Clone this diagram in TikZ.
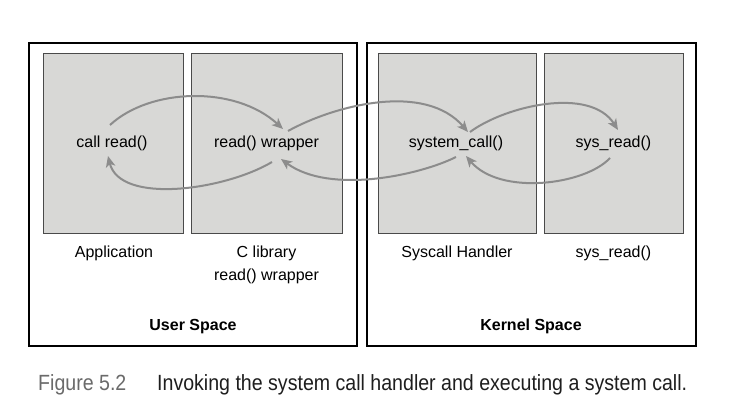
\documentclass[tikz,border=0pt]{standalone}
\usepackage{fontspec}
\setmainfont{Liberation Sans}
\newfontfamily\capfont[FakeStretch=0.89]{Liberation Sans}
\usetikzlibrary{arrows.meta}
\definecolor{boxfill}{HTML}{D8D8D6}
\definecolor{boxline}{HTML}{4A4A4A}
\definecolor{arrowgray}{HTML}{8C8C8C}
\definecolor{figgray}{HTML}{6A6A6A}
\definecolor{captext}{HTML}{1E1E1E}
\begin{document}
\begin{tikzpicture}[x=1pt,y=-1pt,
  outerbox/.style={draw=black,line width=1.6pt,anchor=north west,inner sep=0pt},
  innerbox/.style={draw=boxline,fill=boxfill,line width=0.9pt,anchor=north west,inner sep=0pt,minimum height=180pt},
  lbl/.style={font=\fontsize{16}{19}\selectfont,anchor=base,inner sep=0pt},
  boldlbl/.style={font=\fontsize{16}{19}\selectfont\bfseries,anchor=base,inner sep=0pt},
  capstyle/.style={font=\capfont\fontsize{22}{26}\selectfont,anchor=base west,inner sep=0pt},
  flow/.style={draw=arrowgray,line width=2pt,-{Stealth[length=11pt,width=9.5pt,inset=3pt]}}]
\useasboundingbox[fill=white] (0,0) rectangle (733,415);
% outer boxes
\node[outerbox,minimum width=328pt,minimum height=303pt] (user) at (28,42) {};
\node[outerbox,minimum width=329pt,minimum height=303pt] (kernel) at (366,42) {};
% inner boxes
\node[innerbox,minimum width=140pt] (app) at (43,53) {};
\node[innerbox,minimum width=151pt] (clib) at (191,53) {};
\node[innerbox,minimum width=158pt] (sys) at (378,53) {};
\node[innerbox,minimum width=139pt] (sysrd) at (544,53) {};
% texts inside boxes
\node[lbl] (callread) at (112,147) {call read()};
\node[lbl] (wrap) at (266.5,147) {read() wrapper};
\node[lbl] (syscall) at (456,147) {system\_call()};
\node[lbl] (sysread) at (613.5,147) {sys\_read()};
% labels under boxes
\node[lbl] (applbl) at (114,257) {Application};
\node[lbl] (cliblbl) at (266.5,257) {C library};
\node[lbl] (cliblbl2) at (266.5,280) {read() wrapper};
\node[lbl] (syslbl) at (457,257) {Syscall Handler};
\node[lbl] (sysrdlbl) at (613.5,257) {sys\_read()};
\node[boldlbl] (userlbl) at (193,330) {User Space};
\node[boldlbl] (kernlbl) at (531,330) {Kernel Space};
% caption
\node[capstyle,text=figgray] (fig) at (38,390) {Figure 5.2};
\node[capstyle,text=captext] (cap) at (157,390) {Invoking the system call handler and executing a system call.};
% arrow endpoints
\coordinate (a1s) at (110,125);
\coordinate (a1e) at (283,129);
\coordinate (a2s) at (288,131);
\coordinate (a2e) at (468,132);
\coordinate (a3s) at (470,132);
\coordinate (a3e) at (618,130);
\coordinate (a4s) at (610,158);
\coordinate (a4e) at (466,156);
\coordinate (a5s) at (456,157);
\coordinate (a5e) at (281,159);
\coordinate (a6s) at (272,162);
\coordinate (a6e) at (108,156);
% arrows
\draw[flow] (a1s) .. controls (150,88) and (235,85) .. (a1e);
\draw[flow] (a2s) .. controls (335,105) and (425,82) .. (a2e);
\draw[flow] (a3s) .. controls (505,106) and (590,86) .. (a3e);
\draw[flow] (a4s) .. controls (585,185) and (500,196) .. (a4e);
\draw[flow] (a5s) .. controls (420,175) and (330,195) .. (a5e);
\draw[flow] (a6s) .. controls (225,190) and (120,205) .. (a6e);
\end{tikzpicture}
\end{document}
